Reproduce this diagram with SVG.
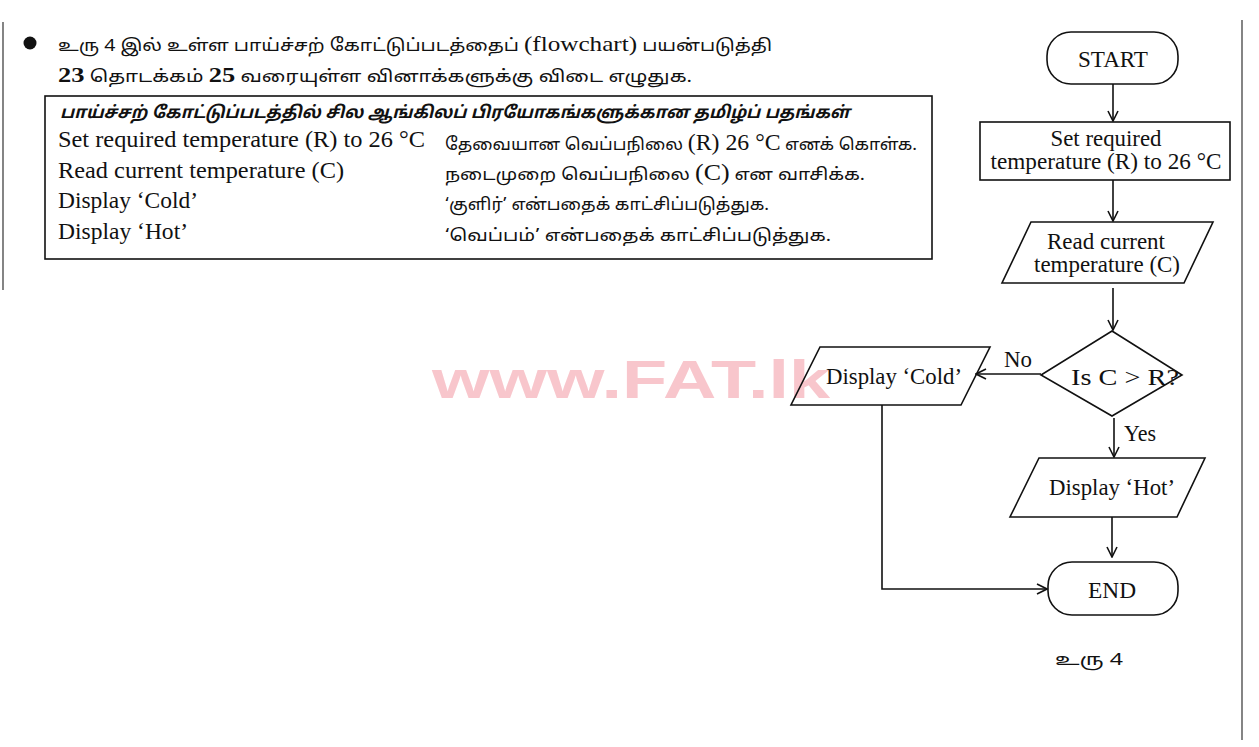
<svg xmlns="http://www.w3.org/2000/svg" width="1259" height="747" viewBox="0 0 1259 747">
<defs>
<marker id="arr" viewBox="0 0 12 12" refX="11" refY="6" markerWidth="12" markerHeight="12" markerUnits="userSpaceOnUse" orient="auto">
<path d="M1,1 L11,6 L1,11" fill="none" stroke="#111" stroke-width="1.6"/>
</marker>
<style>
.s{fill:#fff;stroke:#111;stroke-width:1.6}
.ln{fill:none;stroke:#111;stroke-width:1.6}
.t{font-family:"Liberation Serif","Noto Sans Tamil",serif;font-size:23px;fill:#111}
.c{text-anchor:middle}
.ta{font-family:"Noto Sans Tamil","Liberation Sans","Noto Sans",sans-serif;font-size:17px;fill:#111}
.wm{font-family:"Liberation Sans",Arial,sans-serif;font-weight:bold;font-size:54px;fill:#f8c6cc}
</style>
</defs>
<rect width="1259" height="747" fill="#fff"/>
<line x1="3" y1="22" x2="3" y2="290" stroke="#333" stroke-width="1.2"/>
<line x1="1242" y1="20" x2="1242" y2="740" stroke="#333" stroke-width="1.2"/>
<text class="wm" x="432" y="398" textLength="398" lengthAdjust="spacingAndGlyphs">www.FAT.lk</text>
<g id="intro">
<circle cx="30" cy="43" r="6.5" fill="#111"/>
<text class="ta" x="58" y="51" textLength="714" lengthAdjust="spacingAndGlyphs">உரு 4 இல் உள்ள பாய்ச்சற் கோட்டுப்படத்தைப் <tspan class="t" style="font-size:22px">(flowchart)</tspan> பயன்படுத்தி</text>
<text class="ta" x="58" y="82" textLength="634" lengthAdjust="spacingAndGlyphs"><tspan class="t" style="font-weight:bold;font-size:22px">23</tspan> தொடக்கம்  <tspan class="t" style="font-weight:bold;font-size:22px">25</tspan> வரையுள்ள வினாக்களுக்கு விடை எழுதுக.</text>
</g>
<g id="glossary">
<rect x="45" y="96" width="887" height="163" class="s" stroke-width="1.8"/>
<text class="ta" x="60" y="118" font-style="italic" font-weight="bold" textLength="790" lengthAdjust="spacingAndGlyphs">பாய்ச்சற் கோட்டுப்படத்தில் சில ஆங்கிலப் பிரயோகங்களுக்கான தமிழ்ப் பதங்கள்</text>
<text class="t" x="58" y="147" textLength="367" lengthAdjust="spacingAndGlyphs">Set required temperature (R) to 26 °C</text>
<text class="t" x="58" y="178" textLength="286" lengthAdjust="spacingAndGlyphs">Read current temperature (C)</text>
<text class="t" x="58" y="208" textLength="140" lengthAdjust="spacingAndGlyphs">Display ‘Cold’</text>
<text class="t" x="58" y="239" textLength="130" lengthAdjust="spacingAndGlyphs">Display ‘Hot’</text>
<text class="ta" x="445" y="150" textLength="472" lengthAdjust="spacingAndGlyphs">தேவையான வெப்பநிலை <tspan class="t">(R) 26 °C</tspan> எனக் கொள்க.</text>
<text class="ta" x="445" y="180" textLength="420" lengthAdjust="spacingAndGlyphs">நடைமுறை வெப்பநிலை <tspan class="t">(C)</tspan> என வாசிக்க.</text>
<text class="ta" x="445" y="210" textLength="324" lengthAdjust="spacingAndGlyphs">‘குளிர்’ என்பதைக் காட்சிப்படுத்துக.</text>
<text class="ta" x="445" y="241" textLength="386" lengthAdjust="spacingAndGlyphs">‘வெப்பம்’ என்பதைக் காட்சிப்படுத்துக.</text>
</g>
<g id="connectors">
<line class="ln" x1="1113" y1="84" x2="1113" y2="121" marker-end="url(#arr)"/>
<line class="ln" x1="1113" y1="180" x2="1113" y2="221" marker-end="url(#arr)"/>
<line class="ln" x1="1113" y1="288" x2="1113" y2="330" marker-end="url(#arr)"/>
<line class="ln" x1="1041" y1="374" x2="976" y2="374" marker-end="url(#arr)"/>
<line class="ln" x1="1114" y1="418" x2="1114" y2="457" marker-end="url(#arr)"/>
<line class="ln" x1="1112" y1="517" x2="1112" y2="557" marker-end="url(#arr)"/>
<polyline class="ln" points="882,405 882,589 1047,589" marker-end="url(#arr)"/>
<text class="t" x="1004" y="367" textLength="28" lengthAdjust="spacingAndGlyphs">No</text>
<text class="t" x="1124" y="441" textLength="32" lengthAdjust="spacingAndGlyphs">Yes</text>
</g>
<g id="start">
<rect class="s" x="1047" y="32" width="131" height="52" rx="24"/>
<text class="t c" x="1113" y="67" textLength="70" lengthAdjust="spacingAndGlyphs">START</text>
</g>
<g id="set">
<rect class="s" x="980" y="122" width="250" height="58"/>
<text class="t c" x="1106" y="146" textLength="111" lengthAdjust="spacingAndGlyphs">Set required</text>
<text class="t c" x="1106" y="169" textLength="231" lengthAdjust="spacingAndGlyphs">temperature (R) to 26 °C</text>
</g>
<g id="read">
<polygon class="s" points="1031,222 1213,222 1184,283 1002,283"/>
<text class="t c" x="1106" y="249" textLength="118" lengthAdjust="spacingAndGlyphs">Read current</text>
<text class="t c" x="1107" y="272" textLength="146" lengthAdjust="spacingAndGlyphs">temperature (C)</text>
</g>
<g id="decision">
<polygon class="s" points="1112,331 1182,375 1112,416 1041,375"/>
<text class="t c" x="1125" y="385" textLength="108" lengthAdjust="spacingAndGlyphs">Is C &gt; R?</text>
</g>
<g id="cold">
<polygon class="s" style="fill:none" points="820,347 990,347 961,405 791,405"/>
<text class="t" x="826" y="384" textLength="136" lengthAdjust="spacingAndGlyphs">Display ‘Cold’</text>
</g>
<g id="hot">
<polygon class="s" points="1039,458 1205,458 1177,517 1010,517"/>
<text class="t c" x="1112" y="495" textLength="126" lengthAdjust="spacingAndGlyphs">Display ‘Hot’</text>
</g>
<g id="end">
<rect class="s" x="1048" y="562" width="130" height="53" rx="24"/>
<text class="t c" x="1112" y="598" textLength="48" lengthAdjust="spacingAndGlyphs">END</text>
</g>
<g id="caption">
<text class="ta" x="1055" y="665" textLength="68" lengthAdjust="spacingAndGlyphs">உரு  4</text>
</g>
</svg>
